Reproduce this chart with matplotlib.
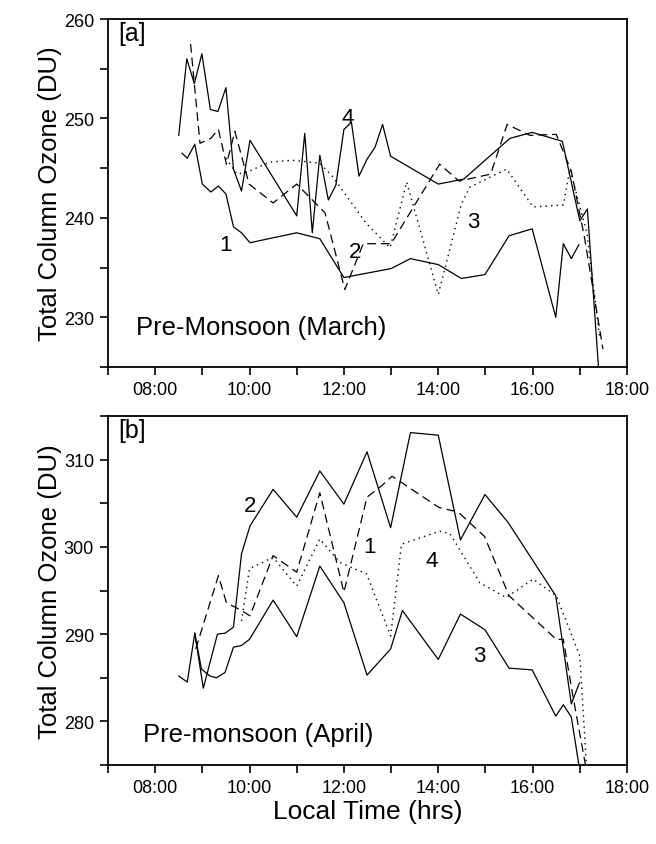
import matplotlib
matplotlib.use("Agg")
import matplotlib.pyplot as plt
from matplotlib.ticker import MultipleLocator, FuncFormatter

plt.rcParams['font.family'] = ['Liberation Sans', 'DejaVu Sans']

# ---------------- Panel a: Pre-Monsoon (March) ----------------
a1_t = [8.57, 8.68, 8.84, 9.00, 9.18, 9.34, 9.50, 9.66, 9.83, 10.01, 11.00, 11.49,
        12.00, 13.00, 13.41, 14.00, 14.49, 14.99, 15.50, 15.99, 16.49, 16.65, 16.82, 16.98]
a1_v = [246.5, 246.0, 247.4, 243.4, 242.6, 243.2, 242.4, 239.1, 238.5, 237.5, 238.5, 237.9,
        234.0, 234.9, 235.9, 235.3, 233.9, 234.3, 238.2, 238.9, 230.0, 237.4, 235.9, 237.3]

a2_t = [8.75, 8.95, 9.18, 9.34, 9.51, 9.69, 9.99, 10.50, 11.00, 11.60, 12.02, 12.41,
        13.00, 14.03, 14.44, 15.11, 15.46, 15.94, 16.50, 16.82, 17.10, 17.49]
a2_v = [257.5, 247.5, 248.0, 248.9, 245.4, 248.7, 243.4, 241.5, 243.4, 240.5, 232.8, 237.4,
        237.4, 245.4, 243.7, 244.4, 249.4, 248.3, 248.4, 244.7, 238.0, 226.8]

a3_t = [9.50, 9.73, 9.94, 10.43, 10.90, 11.49, 11.77, 12.48, 12.98, 13.33, 14.00, 14.49,
        14.67, 15.45, 16.01, 16.65, 16.79, 17.15, 17.42]
a3_v = [246.0, 244.4, 244.6, 245.6, 245.8, 245.5, 244.1, 239.4, 237.0, 243.6, 232.3, 241.4,
        243.1, 244.9, 241.1, 241.3, 244.9, 238.5, 228.0]

a4_t = [8.50, 8.67, 8.83, 8.99, 9.17, 9.33, 9.50, 9.66, 9.83, 10.01, 11.00, 11.17, 11.33,
        11.49, 11.67, 11.83, 12.00, 12.16, 12.32, 12.49, 12.66, 12.82, 12.99, 14.00, 14.54,
        15.52, 15.99, 16.63, 17.00, 17.16, 17.41]
a4_v = [248.3, 256.0, 253.5, 256.5, 250.9, 250.7, 253.1, 244.9, 242.7, 247.8, 240.2, 248.5,
        238.5, 246.3, 241.8, 243.3, 248.9, 249.6, 244.2, 245.9, 247.1, 249.4, 246.2, 243.4,
        243.9, 248.0, 248.6, 247.7, 239.7, 240.9, 224.0]

# ---------------- Panel b: Pre-monsoon (April) ----------------
b1_t = [8.86, 9.34, 9.51, 9.83, 10.01, 10.50, 11.00, 11.49, 12.00, 12.49, 12.80, 13.02,
        14.02, 14.42, 14.98, 15.50, 16.50, 16.65, 16.85, 17.12]
b1_v = [288.3, 296.7, 293.6, 292.7, 292.1, 299.0, 297.1, 306.2, 294.8, 305.7, 307.0, 308.1,
        304.5, 304.0, 301.2, 294.4, 289.4, 289.4, 283.0, 275.0]

b2_t = [8.84, 9.02, 9.32, 9.48, 9.66, 9.83, 10.01, 10.50, 11.00, 11.49, 12.00, 12.49,
        12.99, 13.41, 14.00, 14.47, 14.99, 15.48, 16.49, 16.82, 16.99]
b2_v = [290.1, 283.8, 290.0, 290.1, 290.8, 299.2, 302.4, 306.6, 303.4, 308.7, 304.9, 310.9,
        302.2, 313.1, 312.8, 300.8, 306.0, 302.8, 294.4, 282.0, 284.4]

b3_t = [8.50, 8.68, 8.84, 8.98, 9.16, 9.30, 9.48, 9.66, 9.83, 10.00, 10.50, 11.00, 11.49,
        12.00, 12.49, 12.99, 13.24, 14.00, 14.47, 14.99, 15.50, 15.99, 16.49, 16.65, 16.82,
        16.98]
b3_v = [285.2, 284.5, 290.1, 286.0, 285.2, 285.0, 285.6, 288.5, 288.7, 289.4, 293.9, 289.7,
        297.8, 293.6, 285.3, 288.3, 292.7, 287.1, 292.3, 290.5, 286.1, 285.9, 280.6, 281.9,
        280.5, 275.0]

b4_t = [9.83, 10.00, 10.50, 11.00, 11.49, 11.92, 12.48, 12.99, 13.22, 14.03, 14.25, 14.88,
        15.44, 16.01, 16.50, 17.00, 17.14]
b4_v = [291.5, 297.5, 298.8, 295.5, 300.9, 298.2, 296.9, 289.8, 300.3, 301.8, 301.5, 295.9,
        294.2, 296.3, 294.4, 287.5, 275.0]


def hhmm(x, pos=None):
    return "%02d:00" % int(round(x))


fig = plt.figure(figsize=(6.56, 8.45), dpi=100)
axa = fig.add_axes([0.1646, 0.5645, 0.7912, 0.4118])
axb = fig.add_axes([0.1646, 0.0935, 0.7912, 0.4130])

solid = dict(color='black', lw=0.9, linestyle='-')
dashed = dict(color='black', lw=0.9, linestyle=(0, (7, 4)))
dotted = dict(color='black', lw=1.0, linestyle=(0, (1, 3)))

for ax, series, ylim in [
    (axa, [(a1_t, a1_v, solid), (a2_t, a2_v, dashed), (a3_t, a3_v, dotted), (a4_t, a4_v, solid)], (225, 260)),
    (axb, [(b1_t, b1_v, dashed), (b2_t, b2_v, solid), (b3_t, b3_v, solid), (b4_t, b4_v, dotted)], (275, 315)),
]:
    for t, v, st in series:
        ax.plot(t, v, **st)
    ax.set_xlim(7, 18)
    ax.set_ylim(*ylim)
    ax.xaxis.set_major_locator(MultipleLocator(2))
    ax.xaxis.set_minor_locator(MultipleLocator(1))
    ax.xaxis.set_major_formatter(FuncFormatter(hhmm))
    ax.yaxis.set_major_locator(MultipleLocator(10))
    ax.yaxis.set_minor_locator(MultipleLocator(5))
    ax.tick_params(which='both', direction='out', length=6, width=1.2, labelsize=13,
                   top=False, right=False, pad=4)
    for s in ax.spines.values():
        s.set_linewidth(1.3)
    ax.set_ylabel('Total Column Ozone (DU)', fontsize=18.5, labelpad=1)

# Panel a annotations
axa.text(0.019, 0.995, '[a]', transform=axa.transAxes, fontsize=18, va='top', ha='left')
axa.text(7.59, 229.0, 'Pre-Monsoon (March)', fontsize=18.5, va='center', ha='left')
axa.text(9.49, 237.3, '1', fontsize=16, ha='center', va='center')
axa.text(12.23, 236.6, '2', fontsize=16, ha='center', va='center')
axa.text(14.74, 239.6, '3', fontsize=16, ha='center', va='center')
axa.text(12.07, 250.1, '4', fontsize=16, ha='center', va='center')

# Panel b annotations
axb.text(0.019, 0.995, '[b]', transform=axb.transAxes, fontsize=18, va='top', ha='left')
axb.text(7.74, 278.6, 'Pre-monsoon (April)', fontsize=18.5, va='center', ha='left')
axb.text(10.01, 304.7, '2', fontsize=16, ha='center', va='center')
axb.text(12.55, 300.1, '1', fontsize=16, ha='center', va='center')
axb.text(13.86, 298.4, '4', fontsize=16, ha='center', va='center')
axb.text(14.87, 287.6, '3', fontsize=16, ha='center', va='center')
axb.set_xlabel('Local Time (hrs)', fontsize=19, labelpad=2)

fig.savefig('out.png', dpi=100)
